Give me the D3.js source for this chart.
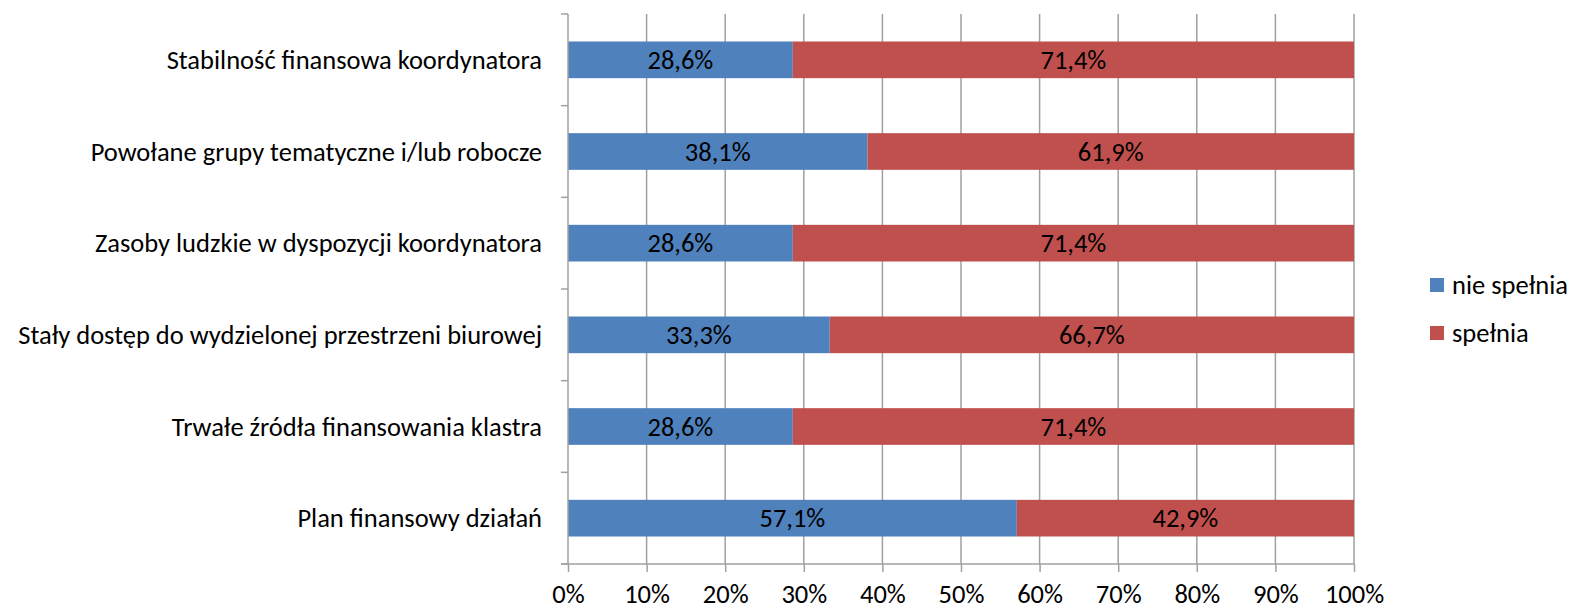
<!DOCTYPE html>
<html>
<head>
<meta charset="utf-8">
<script src="https://cdn.jsdelivr.net/npm/d3@7"></script>
<style>
  body { margin: 0; background: #fff; }
  text { font-family: Carlito, Lato, "Liberation Sans", sans-serif; fill: #000; }
</style>
</head>
<body>
<div id="chart"></div>
<script>
// categories from top to bottom
var categories = [
    "Stabilność finansowa koordynatora",
    "Powołane grupy tematyczne i/lub robocze",
    "Zasoby ludzkie w dyspozycji koordynatora",
    "Stały dostęp do wydzielonej przestrzeni biurowej",
    "Trwałe źródła finansowania klastra",
    "Plan finansowy działań"
];
var nieSpelnia = [28.6, 38.1, 28.6, 33.3, 28.6, 57.1];
var spelnia = [71.4, 61.9, 71.4, 66.7, 71.4, 42.9];
var seriesNames = ["nie spełnia", "spełnia"];
var seriesColors = ["#4F81BD", "#C0504D"];
var xTicks = [0, 10, 20, 30, 40, 50, 60, 70, 80, 90, 100];

var width = 1571, height = 611;
var margin = { top: 14, right: 217, bottom: 47, left: 568 };
var w = width - margin.left - margin.right,
    h = height - margin.top - margin.bottom;
var fontSize = "26.5px";

var svg = d3.select("#chart")
    .append("svg")
    .attr("width", width)
    .attr("height", height);

var g = svg.append("g")
    .attr("transform", "translate(" + margin.left + "," + margin.top + ")");

var x = d3.scaleLinear()
    .domain([0, 100])
    .range([0, w]);

var y = d3.scaleBand()
    .domain(categories)
    .range([0, h])
    .paddingInner(0.6)
    .paddingOuter(0.3);

var fmt = function(v) { return v.toFixed(1).replace(".", ",") + "%"; };

// vertical gridlines
g.append("g")
    .selectAll("line")
    .data(xTicks.slice(1))
    .enter()
    .append("line")
    .attr("x1", function(d) { return x(d); })
    .attr("x2", function(d) { return x(d); })
    .attr("y1", 0)
    .attr("y2", h)
    .attr("stroke", "#a0a0a0")
    .attr("stroke-width", 1.5);

// stacked bars
var rows = categories.map(function(c, i) {
    return { cat: c, vals: [nieSpelnia[i], spelnia[i]] };
});

rows.forEach(function(r) {
    var start = 0;
    r.vals.forEach(function(v, s) {
        g.append("rect")
            .attr("x", x(start))
            .attr("y", y(r.cat))
            .attr("width", x(start + v) - x(start))
            .attr("height", y.bandwidth())
            .attr("fill", seriesColors[s]);
        g.append("text")
            .attr("x", x(start + v / 2))
            .attr("y", y(r.cat) + y.bandwidth() / 2)
            .attr("dy", "0.35em")
            .attr("text-anchor", "middle")
            .style("font-size", fontSize)
            .text(fmt(v));
        start += v;
    });
});

// y axis: line with ticks at band boundaries
var bounds = d3.range(categories.length + 1).map(function(i) { return i * h / categories.length; });
g.append("line")
    .attr("x1", 0).attr("x2", 0)
    .attr("y1", 0).attr("y2", h)
    .attr("stroke", "#a0a0a0")
    .attr("stroke-width", 1.5);
g.append("g")
    .selectAll("line")
    .data(bounds)
    .enter()
    .append("line")
    .attr("x1", -7).attr("x2", 0)
    .attr("y1", function(d) { return d; })
    .attr("y2", function(d) { return d; })
    .attr("stroke", "#a0a0a0")
    .attr("stroke-width", 1.5);

// category labels
g.append("g")
    .selectAll("text")
    .data(categories)
    .enter()
    .append("text")
    .attr("x", -26)
    .attr("y", function(d) { return y(d) + y.bandwidth() / 2; })
    .attr("dy", "0.35em")
    .attr("text-anchor", "end")
    .style("font-size", fontSize)
    .text(function(d) { return d; });

// x axis
var xAxis = g.append("g")
    .attr("transform", "translate(0," + h + ")")
    .call(d3.axisBottom(x)
        .tickValues(xTicks)
        .tickSize(8)
        .tickPadding(12)
        .tickFormat(function(d) { return d + "%"; }));
xAxis.select(".domain").remove();
xAxis.selectAll(".tick line")
    .attr("stroke", "#a0a0a0")
    .attr("stroke-width", 1.5);
xAxis.selectAll("text")
    .style("font-size", fontSize)
    .style("font-family", "Carlito, Lato, 'Liberation Sans', sans-serif")
    .attr("fill", "#000");
xAxis.append("line")
    .attr("x1", -7).attr("x2", w)
    .attr("y1", 0).attr("y2", 0)
    .attr("stroke", "#a0a0a0")
    .attr("stroke-width", 1.5);

// legend
var legend = svg.append("g")
    .attr("transform", "translate(1430,278)");
seriesNames.forEach(function(n, i) {
    legend.append("rect")
        .attr("x", 0)
        .attr("y", i * 48)
        .attr("width", 14)
        .attr("height", 14)
        .attr("fill", seriesColors[i]);
    legend.append("text")
        .attr("x", 22)
        .attr("y", i * 48 + 7)
        .attr("dy", "0.35em")
        .style("font-size", fontSize)
        .text(n);
});
</script>
</body>
</html>
